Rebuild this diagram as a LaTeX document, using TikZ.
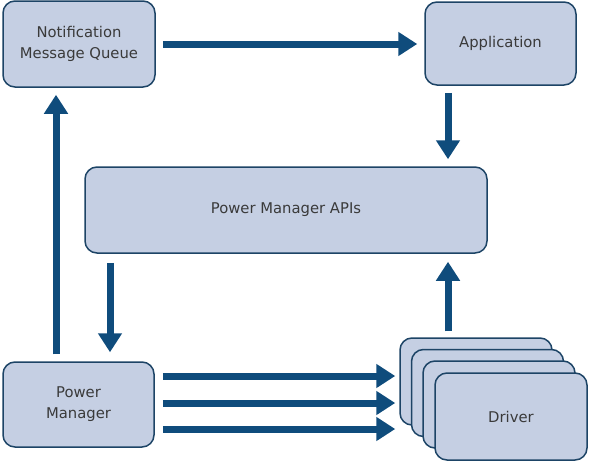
\documentclass[tikz,border=0pt]{standalone}
\usepackage{fontspec}
\setmainfont{DejaVu Sans}
\usetikzlibrary{arrows.meta,calc}
\definecolor{boxfill}{HTML}{C5CFE3}
\definecolor{boxline}{HTML}{1D4466}
\definecolor{arrowc}{HTML}{0F4C7C}
\definecolor{txt}{HTML}{3A3A3A}
\begin{document}
\begin{tikzpicture}[x=1pt,y=-1pt,
  box/.style={draw=boxline,line width=1.5pt,fill=boxfill,rounded corners=12pt,
    text=txt,font=\fontsize{14.8}{21}\selectfont,align=center,inner sep=0pt},
  arr/.style={draw=arrowc,line width=7pt,-{Triangle[width=23pt,length=19pt]},
    shorten <=7pt,shorten >=7pt}]
\useasboundingbox (0,0) rectangle (589,461);
\node[box,minimum width=152pt,minimum height=86pt] (notif) at (79,44) {Notification\\Message Queue};
\node[box,minimum width=151pt,minimum height=83pt] (app) at (500.5,43.5) {Application};
\node[box,minimum width=402pt,minimum height=86pt] (apis) at (286,210) {Power Manager APIs};
\node[box,minimum width=151pt,minimum height=85pt] (pm) at (78.5,404.5) {Power\\Manager};
\node[box,minimum width=152pt,minimum height=87pt] (d1) at (476,381.5) {};
\node[box,minimum width=152pt,minimum height=87pt] (d2) at (487.5,393) {};
\node[box,minimum width=152pt,minimum height=87pt] (d3) at (499,404.5) {};
\node[box,minimum width=152pt,minimum height=87pt] (d4) at (511,416.5) {Driver};
% arrows
\draw[arr] (notif.east) -- (notif.east -| app.west);
\path (app.south) ++(-52.5,0) coordinate (a1);
\draw[arr] (a1) -- (a1 |- apis.north);
\path (pm.north) ++(31.5,0) coordinate (a2);
\draw[arr,shorten <=9pt,shorten >=9pt] (a2 |- apis.south) -- (a2);
\path (pm.north) ++(-22.5,0) coordinate (a3);
\draw[arr] (a3) -- (a3 |- notif.south);
\path (d1.north) ++(-28,0) coordinate (a4);
\draw[arr,shorten <=6pt,shorten >=8pt] (a4) -- (a4 |- apis.south);
\foreach \dy/\nm in {-28.5/b1,-1.5/b2,24.5/b3}{
  \path (pm.east) ++(0,\dy) coordinate (\nm);
  \draw[arr,shorten <=8pt,shorten >=4pt] (\nm) -- (\nm -| d1.west);
}
\end{tikzpicture}
\end{document}
